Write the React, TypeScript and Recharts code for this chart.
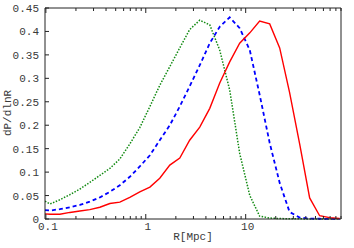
import React from 'react';
import { LineChart, Line, XAxis, YAxis } from 'recharts';

const rValues = [0.098, 0.11, 0.138, 0.174, 0.219, 0.275, 0.347, 0.437, 0.55, 0.692, 0.871, 1.1, 1.38, 1.74, 2.19, 2.75, 3.47, 4.37, 5.5, 6.92, 8.71, 11.0, 13.8, 17.4, 21.9, 27.5, 34.7, 43.7, 55.0, 69.2, 87.1];
const greenValues = [0.038, 0.032, 0.041, 0.052, 0.064, 0.078, 0.093, 0.108, 0.128, 0.160, 0.195, 0.240, 0.285, 0.325, 0.365, 0.404, 0.424, 0.414, 0.360, 0.275, 0.140, 0.050, 0.006, 0.002, 0.001, 0.0005, 0.0003, 0.0002, 0.0001, 0, 0];
const blueValues = [0.019, 0.018, 0.021, 0.025, 0.030, 0.037, 0.046, 0.058, 0.072, 0.090, 0.112, 0.136, 0.168, 0.200, 0.240, 0.283, 0.328, 0.375, 0.410, 0.430, 0.407, 0.360, 0.265, 0.162, 0.077, 0.015, 0.003, 0.001, 0.0005, 0.0002, 0];
const redValues = [0.011, 0.010, 0.010, 0.014, 0.017, 0.020, 0.025, 0.033, 0.036, 0.046, 0.058, 0.068, 0.087, 0.115, 0.130, 0.168, 0.196, 0.236, 0.290, 0.335, 0.375, 0.397, 0.422, 0.416, 0.365, 0.270, 0.160, 0.045, 0.007, 0.003, 0.001];

const xTicks = [0.1, 0.2, 0.3, 0.4, 0.5, 0.6, 0.7, 0.8, 0.9, 1, 2, 3, 4, 5, 6, 7, 8, 9, 10, 20, 30, 40, 50, 60, 70, 80, 90];
const xMajor = [0.1, 1, 10];
const xLabels = ['0.1', '1', '10'];
const yTicks = [0, 0.05, 0.1, 0.15, 0.2, 0.25, 0.3, 0.35, 0.4, 0.45];
const yLabels = ['0', '0.05', '0.1', '0.15', '0.2', '0.25', '0.3', '0.35', '0.4', '0.45'];

const data = rValues.map((r, i) => ({ r, g: greenValues[i], b: blueValues[i], red: redValues[i] }));

const FONT = '"Liberation Mono", "DejaVu Sans Mono", monospace';
const TXT = '#3a3a3a';
const AX = '#222';

const isMajor = (v: number) => xMajor.some((m) => Math.abs(m - v) < 1e-9);

const BottomTick = (props: any) => {
  const { x, y, payload } = props;
  const v = payload.value;
  const major = isMajor(v);
  const idx = xMajor.findIndex((m) => Math.abs(m - v) < 1e-9);
  return (
    <g>
      <line x1={x} x2={x} y1={y} y2={y - (major ? 5 : 3)} stroke={AX} strokeWidth={1} />
      {major && (
        <text x={x + 2} y={y + 11} textAnchor="middle" fontFamily={FONT} fontSize={11} fill={TXT}>
          {xLabels[idx]}
        </text>
      )}
    </g>
  );
};

const TopTick = (props: any) => {
  const { x, y, payload } = props;
  const major = isMajor(payload.value);
  return <line x1={x} x2={x} y1={y} y2={y + (major ? 5 : 3)} stroke={AX} strokeWidth={1} />;
};

const LeftTick = (props: any) => {
  const { x, y, payload, index } = props;
  const idx = yTicks.findIndex((t) => Math.abs(t - payload.value) < 1e-9);
  return (
    <g>
      <line x1={x} x2={x + 4} y1={y} y2={y} stroke={AX} strokeWidth={1} />
      <text x={x - 6} y={y} dy={4} textAnchor="end" fontFamily={FONT} fontSize={11} fill={TXT}>
        {yLabels[idx >= 0 ? idx : index]}
      </text>
    </g>
  );
};

const RightTick = (props: any) => {
  const { x, y } = props;
  return <line x1={x} x2={x - 4} y1={y} y2={y} stroke={AX} strokeWidth={1} />;
};

export default function App() {
  return (
    <div style={{ position: 'absolute', left: 0, top: 0, width: 354, height: 248 }}>
      <LineChart width={354} height={248} data={data} margin={{ top: 7, right: 12, bottom: 0, left: 0 }}>
        <XAxis
          dataKey="r"
          type="number"
          scale="log"
          domain={[0.098, 90]}
          allowDataOverflow
          ticks={xTicks}
          interval={0}
          tickSize={0}
          tickMargin={0}
          tickLine={false}
          tick={BottomTick}
          axisLine={{ stroke: AX }}
          height={29}
          label={() => (
            <text x={193} y={240} textAnchor="middle" fontFamily={FONT} fontSize={11} fill={TXT}>
              R[Mpc]
            </text>
          )}
        />
        <XAxis
          xAxisId="top"
          orientation="top"
          dataKey="r"
          type="number"
          scale="log"
          domain={[0.098, 90]}
          allowDataOverflow
          ticks={xTicks}
          interval={0}
          tickSize={0}
          tickMargin={0}
          tickLine={false}
          tick={TopTick}
          axisLine={{ stroke: AX }}
          height={1}
        />
        <YAxis
          type="number"
          domain={[0, 0.45]}
          ticks={yTicks}
          interval={0}
          tickSize={0}
          tickMargin={0}
          tickLine={false}
          tick={LeftTick}
          axisLine={{ stroke: AX }}
          width={45}
          label={() => (
            <text x={8} y={113} transform="rotate(-90, 8, 113)" textAnchor="middle" dominantBaseline="central" fontFamily={FONT} fontSize={11} fill={TXT}>
              dP/dlnR
            </text>
          )}
        />
        <YAxis
          yAxisId="right"
          orientation="right"
          type="number"
          domain={[0, 0.45]}
          ticks={yTicks}
          interval={0}
          tickSize={0}
          tickMargin={0}
          tickLine={false}
          tick={RightTick}
          axisLine={{ stroke: AX }}
          width={1}
        />
        <Line dataKey="g" stroke="#118a11" strokeWidth={1.5} strokeDasharray="1.5 1.5" dot={false} isAnimationActive={false} />
        <Line dataKey="b" stroke="#0000ff" strokeWidth={1.8} strokeDasharray="4 3" dot={false} isAnimationActive={false} />
        <Line dataKey="red" stroke="#ff0000" strokeWidth={1.4} dot={false} isAnimationActive={false} />
      </LineChart>
    </div>
  );
}
